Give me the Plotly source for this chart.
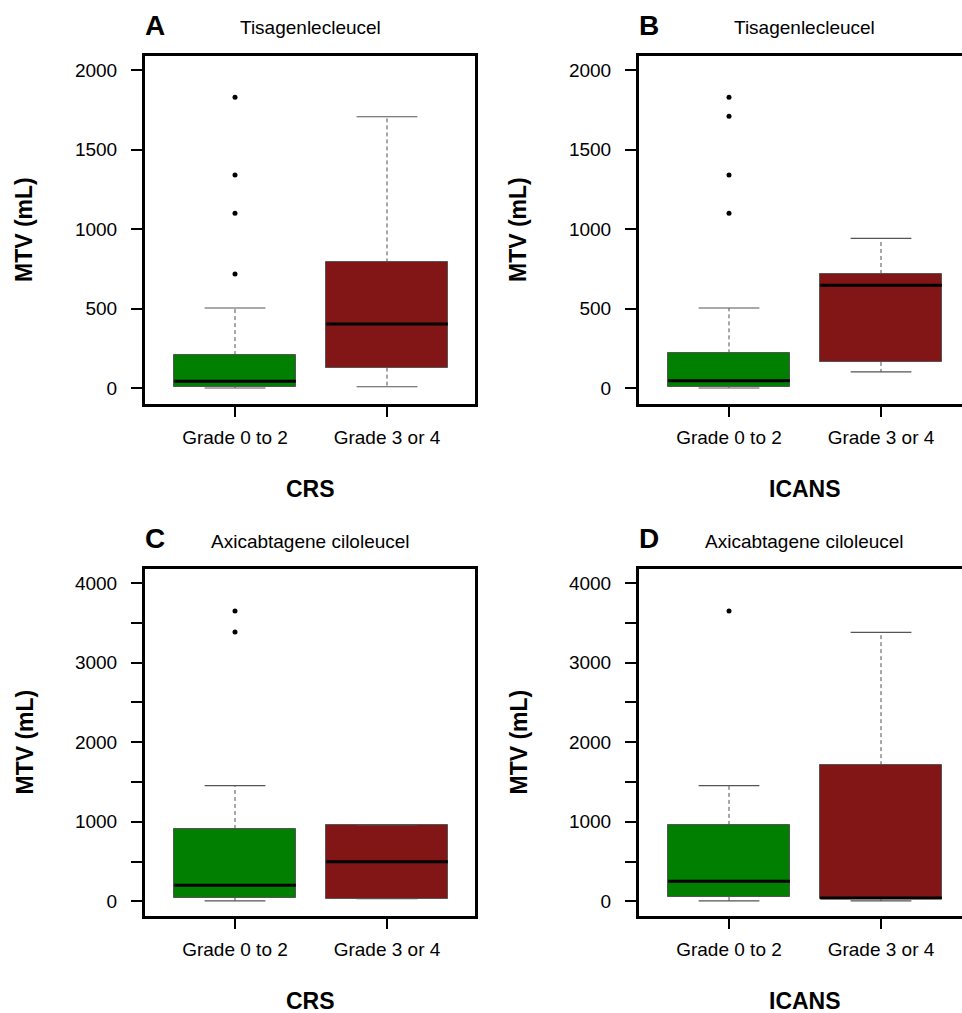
import plotly.graph_objects as go

# ---------------- data ----------------
categories = ["Grade 0 to 2", "Grade 3 or 4"]
box_colors = ["#007F00", "#821515"]

# Panel A: Tisagenlecleucel, CRS
A_lower = [0, 8]
A_q1 = [6, 128]
A_median = [42, 402]
A_q3 = [207, 790]
A_upper = [503, 1706]
A_outliers = [[1828, 1340, 1099, 717], []]

# Panel B: Tisagenlecleucel, ICANS
B_lower = [0, 101]
B_q1 = [5, 164]
B_median = [46, 646]
B_q3 = [218, 717]
B_upper = [503, 941]
B_outliers = [[1828, 1709, 1340, 1099], []]

# Panel C: Axicabtagene ciloleucel, CRS
C_lower = [4, 33]
C_q1 = [45, 33]
C_median = [201, 498]
C_q3 = [909, 960]
C_upper = [1454, 960]
C_outliers = [[3648, 3384], []]

# Panel D: Axicabtagene ciloleucel, ICANS
D_lower = [4, 4]
D_q1 = [54, 25]
D_median = [252, 42]
D_q3 = [960, 1711]
D_upper = [1454, 3379]
D_outliers = [[3648], []]

panel_letters = ["A", "B", "C", "D"]
panel_titles = ["Tisagenlecleucel", "Tisagenlecleucel",
                "Axicabtagene ciloleucel", "Axicabtagene ciloleucel"]
panel_xtitles = ["CRS", "ICANS", "CRS", "ICANS"]
y_title = "MTV (mL)"
top_ticks = [0, 500, 1000, 1500, 2000]
bottom_ticks = [0, 500, 1000, 1500, 2000, 2500, 3000, 3500, 4000]
bottom_ticktext = ["0", "", "1000", "", "2000", "", "3000", "", "4000"]

# ---------------- layout helpers ----------------
W, H = 962, 1013
FONT = "Liberation Sans, Arial, sans-serif"


def px(x):
    return x / W


def py(y):
    return 1 - y / H


positions = [0, 1]
panels = [
    (A_lower, A_q1, A_median, A_q3, A_upper, A_outliers),
    (B_lower, B_q1, B_median, B_q3, B_upper, B_outliers),
    (C_lower, C_q1, C_median, C_q3, C_upper, C_outliers),
    (D_lower, D_q1, D_median, D_q3, D_upper, D_outliers),
]

# frame geometry (pixels)
left_x = [(145, 475), (639, 962), (145, 475), (639, 962)]
frame_y = [(56, 404), (56, 404), (569, 916), (569, 916)]
yranges = [[-100.6, 2088], [-100.6, 2088], [-185, 4176], [-185, 4176]]
unit_px = 152.0  # pixels per category step
first_cat_offset = 90.0  # pixels from left frame to first category

fig = go.Figure()

for i, (lo, q1, med, q3, up, outl) in enumerate(panels):
    xa = "x" if i == 0 else f"x{i+1}"
    ya = "y" if i == 0 else f"y{i+1}"

    # whiskers (dashed)
    wx, wy = [], []
    for p, a, b, c, d in zip(positions, lo, q1, q3, up):
        wx += [p, p, None, p, p, None]
        wy += [c, d, None, b, a, None]
    fig.add_trace(go.Scatter(x=wx, y=wy, mode="lines", xaxis=xa, yaxis=ya,
                             line=dict(color="#505050", width=1, dash="4px,3px"),
                             hoverinfo="skip", showlegend=False))
    # staples
    sx, sy = [], []
    for p, a, d in zip(positions, lo, up):
        sx += [p - 0.2, p + 0.2, None, p - 0.2, p + 0.2, None]
        sy += [d, d, None, a, a, None]
    fig.add_trace(go.Scatter(x=sx, y=sy, mode="lines", xaxis=xa, yaxis=ya,
                             line=dict(color="#555555", width=1.2),
                             hoverinfo="skip", showlegend=False))
    # boxes
    fig.add_trace(go.Bar(x=positions, base=q1,
                         y=[b - a for a, b in zip(q1, q3)],
                         width=0.8, xaxis=xa, yaxis=ya,
                         marker=dict(color=box_colors,
                                     line=dict(color="#555555", width=1)),
                         hoverinfo="skip", showlegend=False))
    # medians
    mx, my = [], []
    for p, m in zip(positions, med):
        mx += [p - 0.4, p + 0.4, None]
        my += [m, m, None]
    fig.add_trace(go.Scatter(x=mx, y=my, mode="lines", xaxis=xa, yaxis=ya,
                             line=dict(color="black", width=3),
                             hoverinfo="skip", showlegend=False))
    # outliers
    ox, oy = [], []
    for p, o in zip(positions, outl):
        ox += [p] * len(o)
        oy += o
    fig.add_trace(go.Scatter(x=ox, y=oy, mode="markers", xaxis=xa, yaxis=ya,
                             marker=dict(color="black", size=5),
                             hoverinfo="skip", showlegend=False))

layout = dict(
    width=W, height=H, margin=dict(l=0, r=0, t=0, b=0),
    plot_bgcolor="white", paper_bgcolor="white",
    font=dict(family=FONT, size=19, color="black"),
    showlegend=False, bargap=0,
)

annotations = []
for i in range(4):
    xk = "xaxis" if i == 0 else f"xaxis{i+1}"
    yk = "yaxis" if i == 0 else f"yaxis{i+1}"
    x0, x1 = left_x[i]
    y0, y1 = frame_y[i]
    xr0 = -first_cat_offset / unit_px
    xr1 = xr0 + (x1 - x0) / unit_px
    right_open = (x1 >= W)
    layout[xk] = dict(
        domain=[px(x0), px(x1)], range=[xr0, xr1],
        anchor="y" if i == 0 else f"y{i+1}",
        tickmode="array", tickvals=positions, ticktext=categories,
        showline=True, linewidth=3, linecolor="black", mirror=True,
        ticks="outside", ticklen=10, tickwidth=1.5, tickcolor="black",
        showgrid=False, zeroline=False, ticklabelstandoff=4,
        tickfont=dict(family=FONT, size=19),
    )
    if i < 2:
        tv, tt = top_ticks, [str(t) for t in top_ticks]
    else:
        tv, tt = bottom_ticks, bottom_ticktext
    layout[yk] = dict(
        domain=[py(y1), py(y0)], range=yranges[i],
        anchor="x" if i == 0 else f"x{i+1}",
        tickmode="array", tickvals=tv, ticktext=tt,
        showline=True, linewidth=3, linecolor="black",
        mirror=(False if right_open else True),
        ticks="outside", ticklen=11, tickwidth=1.5, tickcolor="black",
        showgrid=False, zeroline=False, ticklabelstandoff=10,
        tickfont=dict(family=FONT, size=19),
    )

    cx = x0 + 165.5  # centre of a full-width frame
    letter_x = x0 + 10
    top_y = y0 - 31
    annotations.append(dict(text=f"<b>{panel_letters[i]}</b>", x=px(letter_x), y=py(top_y),
                            xref="paper", yref="paper", showarrow=False,
                            xanchor="center", yanchor="middle",
                            font=dict(family=FONT, size=28)))
    annotations.append(dict(text=panel_titles[i], x=px(cx), y=py(top_y + 3),
                            xref="paper", yref="paper", showarrow=False,
                            xanchor="center", yanchor="middle",
                            font=dict(family=FONT, size=19)))
    annotations.append(dict(text=f"<b>{panel_xtitles[i]}</b>", x=px(cx), y=py(y1 + 85),
                            xref="paper", yref="paper", showarrow=False,
                            xanchor="center", yanchor="middle",
                            font=dict(family=FONT, size=23)))
    annotations.append(dict(text=f"<b>{y_title}</b>", x=px(x0 - 121), y=py((y0 + y1) / 2),
                            xref="paper", yref="paper", showarrow=False,
                            xanchor="center", yanchor="middle", textangle=-90,
                            font=dict(family=FONT, size=23)))

layout["annotations"] = annotations
fig.update_layout(**layout)

fig.write_html("out.html", config={"displayModeBar": False},
               post_script="document.body.style.margin='0';")
